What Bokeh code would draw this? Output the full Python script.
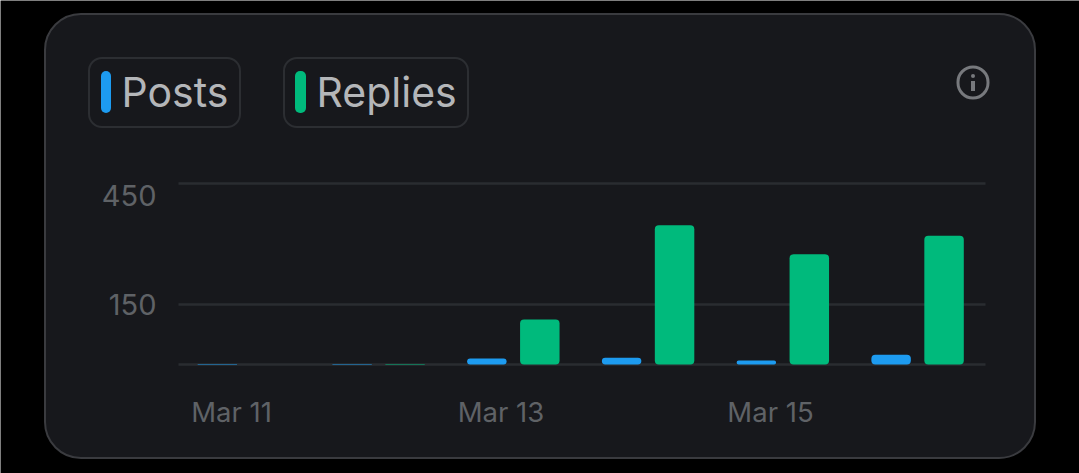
from bokeh.embed import file_html
from bokeh.models import BoxAnnotation, FixedTicker, Label
from bokeh.plotting import figure
from bokeh.resources import INLINE

days = [0, 1, 2, 3, 4, 5]
day_labels = {0: "Mar 11", 2: "Mar 13", 4: "Mar 15"}
posts = [1, 1, 15, 17, 10, 24]
replies = [0, 1, 112, 346, 274, 320]
y_ticks = [0, 150, 450]

BG = "#000000"
CARD = "#17181c"
CARD_LINE = "#3a3b3f"
PILL_LINE = "#2c2e32"
GRID = "#2a2c30"
BLUE = "#1d9bf0"
GREEN = "#00ba7c"
LEGEND_TEXT = "#b4b6b9"
TICK_TEXT = "#5f6266"
ICON = "#77797d"
FONT = "Inter"

HEIGHT = 473

# the frame fills the whole canvas, the axes are pinned inside it
X0 = -1.7143
X1 = 6.2931
PLOT_LEFT = -0.3933
PLOT_RIGHT = 5.598

p = figure(width=1079, height=HEIGHT, output_backend="svg", toolbar_location=None,
           x_range=(X0, X1), y_range=(-271, 905), min_border=0)
p.background_fill_color = BG
p.border_fill_color = BG
p.outline_line_color = None


def box(left, right, top, bottom, radius=0, fill=None, line=None, line_width=1, level="image"):
    # screen y runs up from the bottom of the canvas
    b = BoxAnnotation(left=left - 0.5, right=right - 0.5, top=HEIGHT - top + 0.5, bottom=HEIGHT - bottom + 0.5,
                      left_units="screen", right_units="screen", top_units="screen", bottom_units="screen",
                      border_radius=radius, fill_color=fill, fill_alpha=1 if fill else 0,
                      line_color=line, line_alpha=1 if line else 0, line_width=line_width, level=level)
    p.add_layout(b)


def text(x, y, s, size, color, align="left"):
    p.add_layout(Label(x=x, y=HEIGHT - y, x_units="screen", y_units="screen", text=s,
                       text_font=FONT, text_font_size=size, text_color=color,
                       text_align=align, text_baseline="middle"))


# card
box(45, 1035, 14, 458, radius=36, fill=CARD, line=CARD_LINE, line_width=2)

# legend pills
box(89, 240, 58, 127, radius=13, line=PILL_LINE, line_width=2, level="underlay")
box(101, 111, 71, 113, radius=5, fill=BLUE, level="underlay")
text(121, 91, "Posts", "41px", LEGEND_TEXT)
box(284, 468, 58, 127, radius=13, line=PILL_LINE, line_width=2, level="underlay")
box(295, 306, 71, 113, radius=5, fill=GREEN, level="underlay")
text(316, 91, "Replies", "41px", LEGEND_TEXT)

# info icon
box(958, 988, 67, 98, radius=15, line=ICON, line_width=3, level="underlay")
box(971, 975, 81, 91, fill=ICON, level="underlay")
box(971, 975, 74, 78, radius=2, fill=ICON, level="underlay")

# bars
p.vbar(x=[d - 0.105 for d in days], top=posts, bottom=0, width=0.293,
       fill_color=BLUE, line_color=None, border_radius=4)
p.vbar(x=[d + 0.288 for d in days], top=replies, bottom=0, width=0.293,
       fill_color=GREEN, line_color=None, border_radius=4)

# axes
p.xgrid.visible = False
p.ygrid.ticker = FixedTicker(ticks=y_ticks)
p.ygrid.cross_bounds = (PLOT_LEFT, PLOT_RIGHT)
p.ygrid.grid_line_color = GRID
p.ygrid.grid_line_width = 2.5

p.xaxis.fixed_location = 0
p.xaxis.ticker = FixedTicker(ticks=list(day_labels))
p.xaxis.major_label_overrides = day_labels
p.yaxis.fixed_location = PLOT_LEFT
p.yaxis.ticker = FixedTicker(ticks=[150])
for ax in (p.xaxis, p.yaxis):
    ax.axis_line_color = None
    ax.major_tick_line_color = None
    ax.minor_tick_line_color = None
    ax.major_label_text_font = FONT
    ax.major_label_text_color = TICK_TEXT
p.xaxis.major_label_text_font_size = "27.5px"
p.yaxis.major_label_text_font_size = "29px"
p.xaxis.major_label_standoff = 24
p.yaxis.major_label_standoff = 16

# the top label sits below its gridline in the original
p.add_layout(Label(x=156, x_units="screen", y=450, y_units="data", y_offset=-12, text="450",
                   text_font=FONT, text_font_size="29px", text_color=TICK_TEXT,
                   text_align="right", text_baseline="middle"))

open("out.html", "w").write(file_html(p, INLINE))
